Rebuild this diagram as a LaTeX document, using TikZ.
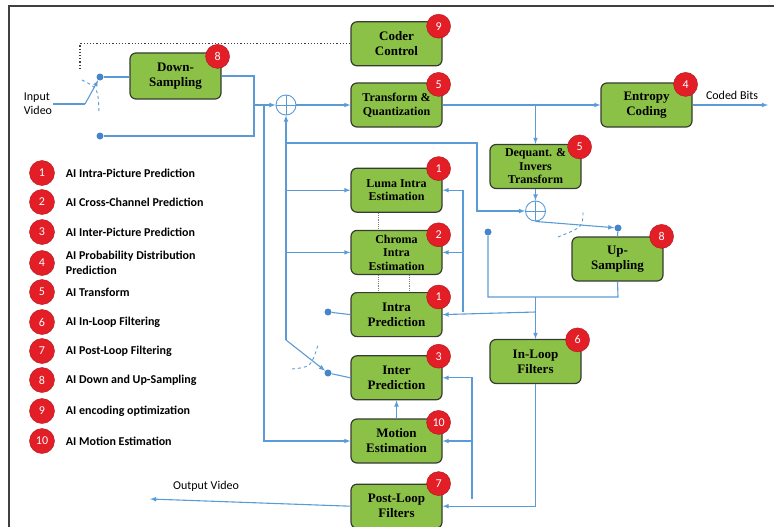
\documentclass[tikz,border=0pt]{standalone}
\usepackage{fontspec}
\setmainfont{Liberation Serif}
\newfontfamily\lgd{Carlito}
\usetikzlibrary{positioning, arrows}
\definecolor{lineblue}{RGB}{91,155,213}
\definecolor{dotblue}{RGB}{68,134,200}
\definecolor{boxgreen}{RGB}{140,193,72}
\definecolor{boxedge}{RGB}{55,60,50}
\definecolor{badgered}{RGB}{228,30,38}
\tikzstyle{frame} = [draw=black!75, line width=1.6pt]
\tikzstyle{wire} = [draw=lineblue, line width=1.1pt]
\tikzstyle{arrow} = [wire, ->, >=latex]
\tikzstyle{ctrl} = [draw=black!75, dotted, line width=1.2pt]
\tikzstyle{link} = [draw=gray, densely dotted, line width=0.9pt]
\tikzstyle{swing} = [draw=lineblue, dashed, line width=0.9pt]
\tikzstyle{blk} = [rectangle, rounded corners=6pt, draw=boxedge, line width=1.2pt, fill=boxgreen, minimum width=91pt, minimum height=44pt, inner sep=2pt, align=center, font=\bfseries\fontsize{13}{15}\selectfont]
\tikzstyle{small} = [font=\bfseries\fontsize{12}{13.5}\selectfont]
\tikzstyle{numdot} = [circle, fill=badgered, draw=badgered!75!black, line width=0.4pt, inner sep=0pt, minimum size=24pt, text=white, font=\lgd\fontsize{12}{12}\selectfont]
\tikzstyle{sw} = [circle, fill=dotblue, inner sep=0pt, minimum size=7pt]
\tikzstyle{sum} = [circle, draw=lineblue, line width=0.9pt, inner sep=0pt, minimum size=20pt]
\tikzstyle{lbl} = [inner sep=1pt, align=left, font=\lgd\fontsize{12}{14}\selectfont]
\tikzstyle{lgdtext} = [inner sep=0pt, align=left, font=\lgd\bfseries\fontsize{12}{14.5}\selectfont]

\begin{document}
\begin{tikzpicture}[x=1pt, y=-1pt, node distance=17pt]
		\useasboundingbox (0,0) rectangle (776,527);
		\draw [frame] (9,527) -- (9,6) -- (774,6);
		% main column
		\node (transform) [blk, small] at (396.5,105) {Transform \&\\Quantization};
		\node (coder) [blk, above=16pt of transform] {Coder\\Control};
		\node (luma) [blk, small, below=40pt of transform] {Luma Intra\\Estimation};
		\node (chroma) [blk, small, below=of luma] {Chroma\\Intra\\Estimation};
		\node (intra) [blk, below=of chroma] {Intra\\Prediction};
		\node (inter) [blk, below=18pt of intra] {Inter\\Prediction};
		\node (motion) [blk, below=18pt of inter] {Motion\\Estimation};
		\node (post) [blk, below=20pt of motion] {Post-Loop\\Filters};
		% side blocks
		\node (down) [blk, minimum height=46pt] at (175.5,76) {Down-\\Sampling};
		\node (entropy) [blk] at (646.5,105) {Entropy\\Coding};
		\node (dequant) [blk, small] at (535.5,166.5) {Dequant. \&\\Invers\\Transform};
		\node (up) [blk] at (617.5,259) {Up-\\Sampling};
		\node (inloop) [blk] at (535.5,361.5) {In-Loop\\Filters};
		% badges
		\node (b-down) [numdot] at ([xshift=-4pt,yshift=-4pt]down.north east) {8};
		\node (b-coder) [numdot] at ([xshift=-4pt,yshift=-5pt]coder.north east) {9};
		\node (b-transform) [numdot] at ([xshift=-4pt,yshift=-2pt]transform.north east) {5};
		\node (b-entropy) [numdot] at ([xshift=-7pt,yshift=-2pt]entropy.north east) {4};
		\node (b-dequant) [numdot] at ([xshift=-2pt,yshift=-3pt]dequant.north east) {5};
		\node (b-luma) [numdot] at ([xshift=-4pt,yshift=-1pt]luma.north east) {1};
		\node (b-chroma) [numdot] at ([xshift=-4pt,yshift=-5pt]chroma.north east) {2};
		\node (b-intra) [numdot] at ([xshift=-4pt,yshift=-5pt]intra.north east) {1};
		\node (b-up) [numdot] at ([xshift=-2pt,yshift=0pt]up.north east) {8};
		\node (b-inloop) [numdot] at ([xshift=-4pt,yshift=-1pt]inloop.north east) {6};
		\node (b-inter) [numdot] at ([xshift=-4pt,yshift=-1pt]inter.north east) {3};
		\node (b-motion) [numdot] at ([xshift=-4pt,yshift=-4pt]motion.north east) {10};
		\node (b-post) [numdot] at ([xshift=-4pt,yshift=0pt]post.north east) {7};
		% adders and switch points
		\node (sum1) [sum] at (286,105) {};
		\node (sum2) [sum] at (535.5,211) {};
		\draw [wire, line width=0.8pt] (sum1.north) -- (sum1.south) (sum1.west) -- (sum1.east);
		\draw [wire, line width=0.8pt] (sum2.north) -- (sum2.south) (sum2.west) -- (sum2.east);
		\node (d-in1) [sw] at (100,77) {};
		\node (d-in2) [sw] at (100,136) {};
		\node (d-intra) [sw] at (328,312) {};
		\node (d-inter) [sw] at (328,373) {};
		\node (d-up) [sw] at (618,228) {};
		\node (d-fb) [sw] at (488,232) {};
		% outside labels
		\node (in) [lbl] at (38,104) {Input\\Video};
		\node (bits) [lbl] at (732,95) {Coded Bits};
		\node (outv) [lbl] at (206,486) {Output Video};
		\coordinate (swin) at (85,104);
		\coordinate (ctl) at (80,68);
		\coordinate (jd) at (254,136);
		\coordinate (ja) at (254,105);
		\coordinate (jm) at (264,105);
		\coordinate (jp) at (286,340);
		\coordinate (jr) at (286,143);
		\coordinate (kr) at (477,211);
		\coordinate (ju) at (618,297);
		\coordinate (jl) at (463,312);
		\coordinate (jf) at (472,499);
		\coordinate (cb) at (768,105);
		\coordinate (ov) at (150,499);
		% input side
		\draw [wire] (in.east) -- (swin);
		\draw [arrow] (swin) -- (d-in1);
		\draw [swing] (82,80) .. controls (98,88) .. (99,112);
		\draw [wire] (d-in1) -- (d-in1 -| down.west);
		\draw [wire] (down.east) -| (jd) -- (d-in2);
		\draw [arrow] (ja) -- (sum1.west);
		\draw [arrow] (jm) |- (motion.west);
		\draw [ctrl] (coder.west) -| (ctl);
		% forward path
		\draw [arrow] (sum1.east) -- (transform.west);
		\draw [arrow] (transform.east) -- (entropy.west);
		\draw [arrow] (entropy.east) -- (cb);
		\draw [arrow] (transform.east -| dequant.north) -- (dequant.north);
		\draw [arrow] (dequant.south) -- (sum2.north);
		% prediction
		\draw [arrow] (jp) -- (sum1.south);
		\draw [arrow] (jp) -- (d-inter);
		\draw [swing] (292,369) .. controls (311,367) .. (318,345);
		\draw [wire] (d-inter) -- (inter.west);
		\draw [wire] (d-intra) -- (intra.west);
		\draw [arrow] (sum1 |- luma) -- (luma.west);
		\draw [arrow] (sum1 |- chroma) -- (chroma.west);
		\draw [arrow] (jr) -| (kr) -- (sum2.west);
		\draw [link] ([xshift=-18.5pt]luma.south) -- ([xshift=-18.5pt]chroma.north);
		\draw [link] ([xshift=-18.5pt]chroma.south) -- ([xshift=-18.5pt]intra.north);
		\draw [link] ([xshift=12.5pt]chroma.south) -- ([xshift=12.5pt]intra.north);
		% reconstruction loop
		\draw [arrow] (sum2.south) -- (d-up);
		\draw [swing] (558,237) .. controls (583,227) .. (583,210);
		\draw [wire] (d-up) -- (up.north);
		\draw [wire] (d-fb) |- (ju) -- (up.south);
		\draw [arrow] (inloop.north |- ju) -- (inloop.north);
		\draw [arrow] (inloop.north |- jl) -- (intra.east);
		\draw [arrow] (jl) |- (luma.east);
		\draw [arrow] (jl |- chroma) -- (chroma.east);
		\draw [arrow] (inloop.south) |- (post.east);
		\draw [arrow] (jf) |- (inter.east);
		\draw [arrow] (jf |- motion) -- (motion.east);
		\draw [arrow] (motion.north) -- (inter.south);
		\draw [arrow] (post.west) -- (ov);
		% legend
		\node (n1) [numdot, minimum size=25pt] at (42,173) {1};
		\node (t1) [lgdtext, right=11pt of n1] {AI Intra-Picture Prediction};
		\node (n2) [numdot, minimum size=25pt] at (42,202) {2};
		\node (t2) [lgdtext, right=11pt of n2] {AI Cross-Channel Prediction};
		\node (n3) [numdot, minimum size=25pt] at (42,232) {3};
		\node (t3) [lgdtext, right=11pt of n3] {AI Inter-Picture Prediction};
		\node (n4) [numdot, minimum size=25pt] at (42,263) {4};
		\node (t4) [lgdtext, right=11pt of n4] {AI Probability Distribution\\Prediction};
		\node (n5) [numdot, minimum size=25pt] at (42,292) {5};
		\node (t5) [lgdtext, right=11pt of n5] {AI Transform};
		\node (n6) [numdot, minimum size=25pt] at (42,322) {6};
		\node (t6) [lgdtext, right=11pt of n6] {AI In-Loop Filtering};
		\node (n7) [numdot, minimum size=25pt] at (42,351) {7};
		\node (t7) [lgdtext, right=11pt of n7] {AI Post-Loop Filtering};
		\node (n8) [numdot, minimum size=25pt] at (42,380) {8};
		\node (t8) [lgdtext, right=11pt of n8] {AI Down and Up-Sampling};
		\node (n9) [numdot, minimum size=25pt] at (42,411) {9};
		\node (t9) [lgdtext, right=11pt of n9] {AI encoding optimization};
		\node (n10) [numdot, minimum size=25pt] at (42,441) {10};
		\node (t10) [lgdtext, right=11pt of n10] {AI Motion Estimation};
\end{tikzpicture}
\end{document}
